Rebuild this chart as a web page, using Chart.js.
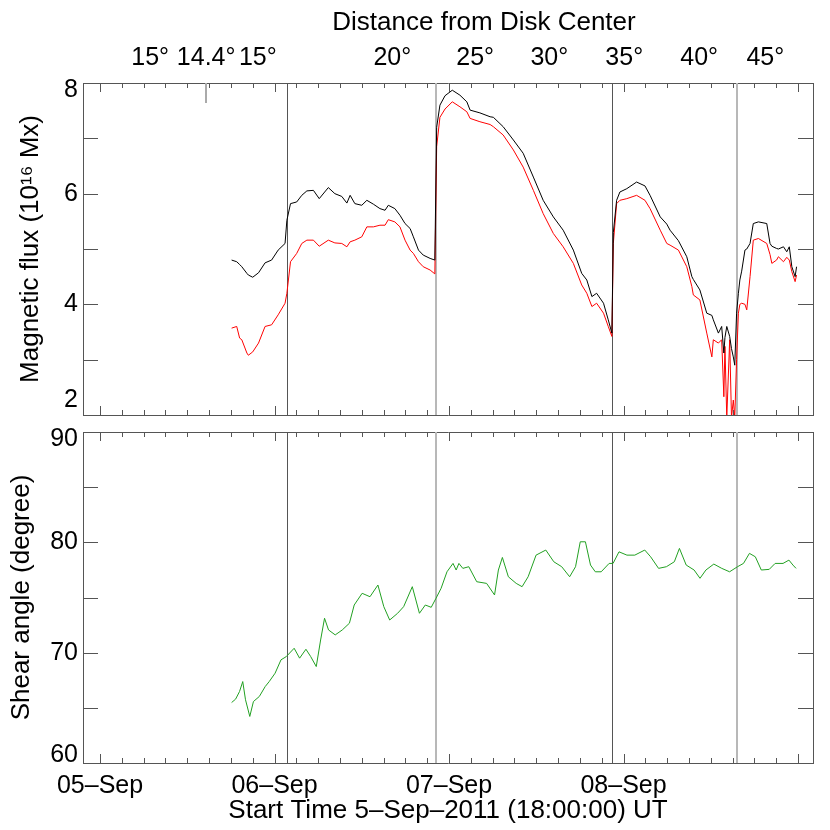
<!DOCTYPE html>
<html>
<head>
<meta charset="utf-8">
<script src="https://cdn.jsdelivr.net/npm/chart.js@4.4.1/dist/chart.umd.min.js"></script>
<style>
  body { margin: 0; background: #fff; }
  #wrap { position: relative; width: 830px; height: 830px; }
  #wrap canvas { position: absolute; left: 0; }
</style>
</head>
<body>
<div id="wrap">
  <canvas id="fluxChart" width="830" height="425" style="top:0"></canvas>
  <canvas id="shearChart" width="830" height="410" style="top:420px"></canvas>
</div>
<script>
// hours counted from 05-Sep-2011 00:00 UT
var dayLabels = ["05\u2013Sep", "06\u2013Sep", "07\u2013Sep", "08\u2013Sep"];
var distanceDeg = [15, 14.4, 15, 20, 25, 30, 35, 40, 45];
var distanceHours = [6.9, 14.6, 21.7, 40.2, 51.6, 61.8, 72.1, 82.4, 91.5];
var eventHours = [25.68, 46.21, 70.46, 87.57];

var fluxHours = [18.1, 18.8, 19.2, 19.5, 20.2, 20.4, 21.0, 21.8, 22.7, 23.6,
  24.5, 25.45, 25.7, 26.2, 27.05, 27.75, 28.45, 29.35, 30.15, 31.4,
  32.3, 33.25, 33.95, 34.4, 35.05, 36.0, 36.7, 37.6, 38.5, 39.2,
  39.65, 40.55, 41.25, 41.95, 42.65, 43.1, 43.8, 44.45, 45.4, 46.05,
  46.3, 46.75, 47.45, 48.45, 49.5, 50.45, 50.9, 52.25, 53.65, 54.1,
  55.45, 56.85, 58.2, 59.6, 60.95, 62.35, 63.7, 65.1, 66.25, 66.95,
  67.65, 68.3, 69.25, 69.9, 70.4, 70.6, 71.05, 71.5, 72.45, 73.8,
  74.95, 75.65, 77.05, 77.95, 78.4, 79.55, 80.7, 81.4, 81.6, 82.5,
  83.45, 84.15, 84.35, 85.05, 85.5, 85.8, 85.95, 86.2, 86.6, 86.85,
  87.1, 87.3, 87.55, 87.8, 88.0, 88.25, 88.7, 88.95, 89.4, 89.85,
  90.55, 91.7, 92.15, 92.4, 93.05, 93.3, 94.0, 94.45, 94.8, 95.15,
  95.6, 95.8];

var fluxBlack = [4.80, 4.77, 4.72, 4.68, 4.56, 4.53, 4.49, 4.57, 4.75, 4.80,
  4.98, 5.10, 5.52, 5.82, 5.85, 5.97, 6.05, 6.06, 5.91, 6.11,
  6.00, 5.95, 5.83, 5.97, 5.82, 5.79, 5.88, 5.81, 5.73, 5.70,
  5.79, 5.73, 5.61, 5.46, 5.37, 5.22, 4.98, 4.89, 4.83, 4.80,
  7.20, 7.60, 7.77, 7.87, 7.78, 7.66, 7.51, 7.46, 7.39, 7.38,
  7.21, 6.97, 6.73, 6.30, 5.88, 5.58, 5.34, 4.98, 4.56, 4.44,
  4.14, 4.20, 4.02, 3.72, 3.48, 5.30, 5.88, 6.03, 6.09, 6.21,
  6.14, 5.97, 5.58, 5.45, 5.34, 5.15, 4.86, 4.50, 4.45, 4.26,
  3.84, 3.80, 3.72, 3.48, 3.60, 3.12, 3.40, 3.60, 3.42, 3.20,
  3.05, 2.90, 3.84, 4.20, 4.44, 4.60, 4.98, 5.00, 5.10, 5.46,
  5.49, 5.46, 5.10, 5.05, 5.01, 5.00, 5.04, 4.95, 5.04, 4.68,
  4.50, 4.68];

var fluxRed = [3.57, 3.60, 3.39, 3.36, 3.12, 3.08, 3.14, 3.30, 3.60, 3.63,
  3.81, 4.02, 4.20, 4.77, 4.92, 5.10, 5.16, 5.16, 5.05, 5.16,
  5.11, 5.10, 5.04, 5.13, 5.16, 5.22, 5.40, 5.40, 5.43, 5.43,
  5.53, 5.49, 5.40, 5.16, 4.98, 4.92, 4.77, 4.68, 4.62, 4.55,
  6.85, 7.38, 7.53, 7.66, 7.57, 7.48, 7.36, 7.30, 7.25, 7.21,
  7.06, 6.79, 6.48, 6.06, 5.64, 5.28, 5.04, 4.74, 4.35, 4.20,
  3.96, 4.02, 3.84, 3.60, 3.42, 5.10, 5.82, 5.88, 5.91, 5.97,
  5.88, 5.73, 5.34, 5.10, 5.07, 4.98, 4.68, 4.32, 4.17, 4.08,
  3.48, 3.05, 3.36, 3.30, 3.36, 2.33, 3.24, 1.95, 3.36, 1.95,
  2.27, 1.95, 3.00, 3.84, 4.00, 4.02, 4.00, 3.90, 4.50, 5.16,
  5.19, 5.10, 4.90, 4.74, 4.80, 4.86, 4.77, 4.85, 4.80, 4.59,
  4.41, 4.53];

var shearHours = [18.1, 18.65, 19.19, 19.63, 20.01, 20.6, 21.1, 21.91, 22.72, 23.27,
  24.08, 24.89, 25.61, 26.7, 27.45, 28.32, 28.98, 29.74, 30.34, 30.88,
  31.43, 32.35, 33.32, 34.3, 34.96, 36.05, 37.13, 38.22, 39.03, 39.84,
  40.93, 41.76, 42.95, 43.93, 44.74, 45.55, 46.21, 46.91, 47.72, 48.55,
  48.98, 49.36, 49.9, 50.72, 51.81, 53.17, 54.26, 54.79, 55.34, 56.16,
  57.24, 58.05, 58.88, 59.97, 61.31, 62.41, 63.5, 64.59, 65.4, 66.05,
  66.76, 67.46, 68.12, 68.93, 70.02, 70.56, 71.38, 72.47, 73.55, 74.92,
  75.73, 76.82, 77.9, 78.99, 79.69, 80.62, 81.71, 82.52, 83.33, 84.42,
  85.51, 86.59, 87.68, 88.5, 89.32, 90.13, 90.95, 92.04, 92.85, 93.94,
  94.75, 95.3, 95.73];

var shearAngle = [65.48, 65.79, 66.48, 67.38, 65.73, 64.22, 65.57, 66.03, 66.93, 67.38,
  68.14, 69.35, 69.64, 70.40, 69.50, 70.31, 69.64, 68.74, 71.15, 73.12,
  72.06, 71.61, 72.06, 72.67, 74.32, 75.38, 75.07, 76.13, 74.17, 72.96,
  73.57, 74.17, 75.98, 73.57, 74.32, 74.11, 74.93, 75.83, 77.33, 78.09,
  77.49, 78.09, 77.64, 77.79, 76.43, 76.28, 75.23, 77.49, 78.63, 76.88,
  76.28, 75.98, 76.88, 78.84, 79.30, 78.24, 77.79, 76.88, 77.79, 80.05,
  80.05, 77.94, 77.33, 77.33, 78.09, 78.09, 79.14, 78.84, 78.84, 79.30,
  78.69, 77.64, 77.79, 78.24, 79.45, 77.94, 77.49, 76.74, 77.49, 78.03,
  77.64, 77.33, 77.79, 78.09, 79.00, 78.69, 77.49, 77.55, 78.09, 78.09,
  78.39, 77.94, 77.64];

var X_MIN = -2.34, X_MAX = 98.06;
var FONT = "'Liberation Sans', Arial, Helvetica, sans-serif";
var AXIS_COLOR = "#555";

Chart.defaults.font.family = FONT;
Chart.defaults.color = "#000";

function points(xs, ys) {
  return xs.map(function (x, i) { return { x: x, y: ys[i] }; });
}

// force axis box size so both panels line up; labels may overhang the box
function fixSize(size) {
  return function (scale) {
    if (scale.isHorizontal()) scale.height = size;
    else scale.width = size;
    scale.paddingTop = 0;
    scale.paddingBottom = 0;
    scale.paddingLeft = 0;
    scale.paddingRight = 0;
  };
}

function threeHourTicks(scale) {
  var t = [];
  for (var h = 0; h <= X_MAX; h += 3) t.push({ value: h });
  scale.ticks = t;
}

function dayLabel(value) {
  var d = dayLabels[value / 24];
  return value % 24 === 0 && d ? d : "";
}

function line(ctx, x1, y1, x2, y2) {
  ctx.beginPath();
  ctx.moveTo(x1, y1);
  ctx.lineTo(x2, y2);
  ctx.stroke();
}

// event lines behind the curves, inward tick marks on all four sides
var framePlugin = {
  id: "frame",
  beforeDatasetsDraw: function (chart) {
    var ctx = chart.ctx, a = chart.chartArea, x = chart.scales.x;
    ctx.save();
    eventHours.forEach(function (h, i) {
      var px = Math.round(x.getPixelForValue(h));
      ctx.strokeStyle = i % 2 ? "#b8b8b8" : "#555";
      ctx.lineWidth = i % 2 ? 2 : 1;
      px = i % 2 ? px : px + 0.5;
      line(ctx, px, a.top, px, a.bottom);
    });
    ctx.restore();
  },
  afterDraw: function (chart) {
    var ctx = chart.ctx, a = chart.chartArea;
    var x = chart.scales.x, y = chart.scales.y;
    ctx.save();
    ctx.strokeStyle = AXIS_COLOR;
    ctx.lineWidth = 1;
    x.ticks.forEach(function (t) {
      var px = Math.round(x.getPixelForValue(t.value)) + 0.5;
      var len = t.value % 24 === 0 ? 9 : 5;
      line(ctx, px, a.bottom, px, a.bottom - len);
      line(ctx, px, a.top, px, a.top + len);
    });
    y.ticks.forEach(function (t) {
      var py = Math.round(y.getPixelForValue(t.value)) + 0.5;
      line(ctx, a.left, py, a.left + 15, py);
      line(ctx, a.right, py, a.right - 15, py);
    });
    ctx.restore();
  }
};

// title of the distance axis and the mark at closest approach
var distancePlugin = {
  id: "distance",
  afterDraw: function (chart) {
    var ctx = chart.ctx, a = chart.chartArea, x = chart.scales.x;
    var minDeg = Math.min.apply(null, distanceDeg);
    var px = Math.round(x.getPixelForValue(distanceHours[distanceDeg.indexOf(minDeg)]));
    ctx.save();
    ctx.strokeStyle = "#aaa";
    ctx.lineWidth = 2;
    line(ctx, px, a.top, px, a.top + 20);
    ctx.fillStyle = "#000";
    ctx.font = "26px " + FONT;
    ctx.textAlign = "center";
    ctx.textBaseline = "middle";
    ctx.fillText("Distance from Disk Center", 484, 23);
    ctx.restore();
  }
};

function baseX(showLabels) {
  return {
    type: "linear",
    position: "bottom",
    min: X_MIN,
    max: X_MAX,
    afterBuildTicks: threeHourTicks,
    grid: { display: false, drawTicks: false },
    border: { display: true, color: AXIS_COLOR, width: 1 },
    ticks: {
      display: showLabels,
      autoSkip: false,
      maxRotation: 0,
      padding: 8,
      font: { size: 25 },
      callback: dayLabel
    }
  };
}

function mirrorX(height) {
  return {
    type: "linear",
    position: "top",
    min: X_MIN,
    max: X_MAX,
    grid: { display: false, drawTicks: false },
    border: { display: true, color: AXIS_COLOR, width: 1 },
    ticks: { display: false },
    afterFit: fixSize(height)
  };
}

function mirrorY(min, max) {
  return {
    position: "right",
    min: min,
    max: max,
    grid: { display: false, drawTicks: false },
    border: { display: true, color: AXIS_COLOR, width: 1 },
    ticks: { display: false },
    afterFit: fixSize(17)
  };
}

// --- magnetic flux panel ---
var fluxX = baseX(false);
fluxX.afterFit = fixSize(10);

var fluxTop = mirrorX(83);
fluxTop.afterBuildTicks = function (scale) {
  scale.ticks = distanceHours.map(function (h) { return { value: h }; });
};
fluxTop.ticks = {
  display: true,
  autoSkip: false,
  maxRotation: 0,
  padding: 10,
  font: { size: 25 },
  callback: function (v, i) { return distanceDeg[i] + "\u00b0"; }
};

new Chart(document.getElementById("fluxChart"), {
  type: "line",
  data: {
    datasets: [
      { label: "Flux 1", data: points(fluxHours, fluxBlack), borderColor: "#000", borderWidth: 1, pointRadius: 0 },
      { label: "Flux 2", data: points(fluxHours, fluxRed), borderColor: "#ff0000", borderWidth: 1, pointRadius: 0 }
    ]
  },
  options: {
    responsive: false,
    animation: false,
    devicePixelRatio: 1,
    layout: { padding: 0 },
    plugins: { legend: { display: false }, tooltip: { enabled: false } },
    scales: {
      x: fluxX,
      xTop: fluxTop,
      y: {
        position: "left",
        min: 2,
        max: 8,
        grid: { display: false, drawTicks: false },
        border: { display: true, color: AXIS_COLOR, width: 1 },
        ticks: {
          stepSize: 1,
          padding: 5,
          font: { size: 25, lineHeight: 15 / 25 },
          callback: function (v) {
            if (v % 2 !== 0) return "";
            if (v === 2) return ["2", "", ""];
            if (v === 8) return ["", "8"];
            return String(v);
          }
        },
        title: {
          display: true,
          text: "Magnetic flux (10\u00b9\u2076 Mx)",
          font: { size: 26 },
          padding: { top: 15, bottom: 0 }
        },
        afterFit: fixSize(83)
      },
      yRight: mirrorY(2, 8)
    }
  },
  plugins: [framePlugin, distancePlugin]
});

// --- shear angle panel ---
var shearX = baseX(true);
shearX.afterFit = fixSize(67);
shearX.title = {
  display: true,
  text: "Start Time 5\u2013Sep\u20132011 (18:00:00) UT",
  font: { size: 26 },
  padding: { top: 0, bottom: 4 }
};

new Chart(document.getElementById("shearChart"), {
  type: "line",
  data: {
    datasets: [
      { label: "Shear angle", data: points(shearHours, shearAngle), borderColor: "#22a022", borderWidth: 1, pointRadius: 0 }
    ]
  },
  options: {
    responsive: false,
    animation: false,
    devicePixelRatio: 1,
    layout: { padding: 0 },
    plugins: { legend: { display: false }, tooltip: { enabled: false } },
    scales: {
      x: shearX,
      xTop: mirrorX(12),
      y: {
        position: "left",
        min: 60,
        max: 90,
        grid: { display: false, drawTicks: false },
        border: { display: true, color: AXIS_COLOR, width: 1 },
        ticks: {
          stepSize: 5,
          padding: 5,
          font: { size: 25, lineHeight: 15 / 25 },
          callback: function (v) {
            if (v % 10 !== 0) return "";
            if (v === 90) return ["", "90"];
            if (v === 60) return ["60", ""];
            return String(v);
          }
        },
        title: {
          display: true,
          text: "Shear angle (degree)",
          font: { size: 26 },
          padding: { top: 6, bottom: 0 }
        },
        afterFit: fixSize(83)
      },
      yRight: mirrorY(60, 90)
    }
  },
  plugins: [framePlugin]
});
</script>
</body>
</html>
